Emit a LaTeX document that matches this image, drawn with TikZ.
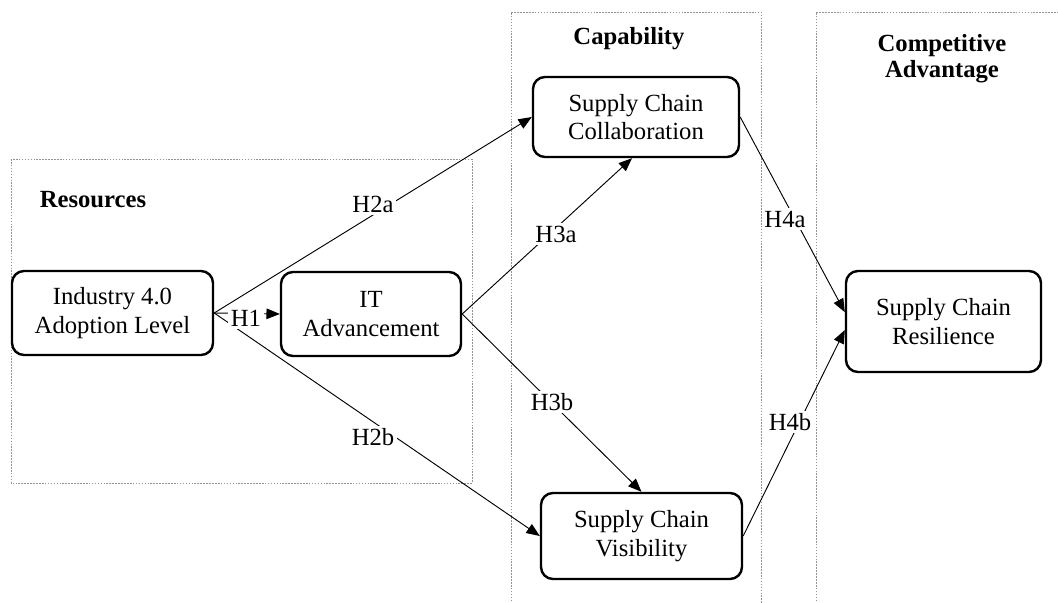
\documentclass[tikz,border=0pt]{standalone}
\usepackage{fontspec}
\setmainfont{Liberation Serif}
\usetikzlibrary{arrows.meta}
\begin{document}
\begin{tikzpicture}[x=0.75pt,y=-0.75pt,
  region/.style={draw=gray!85, line width=0.6pt, dash pattern=on 1.2pt off 1pt},
  box/.style={draw=black, line width=1.8pt, rounded corners=9pt, fill=white, align=center,
    font=\fontsize{18.5}{21.5}\selectfont, inner sep=0pt},
  title/.style={font=\fontsize{18.5}{19.5}\selectfont\bfseries, align=center, inner sep=0pt},
  hyp/.style={fill=white, font=\fontsize{18.5}{20}\selectfont, inner sep=2pt, text height=12.5pt, text depth=0pt},
  conn/.style={draw=black, line width=0.7pt, -{Triangle[length=10pt,width=8pt]}}
]
\useasboundingbox (0,0) rectangle (1058,603);
% regions
\draw[region] (11,159) rectangle (472,483);
\draw[region] (511,610) -- (511,12) -- (761,12) -- (761,610);
\draw[region] (816,610) -- (816,12) -- (1070,12);
% titles
\node[title, anchor=base] (tres) at (93,207) {Resources};
\node[title, anchor=base] (tcap) at (629,45) {Capability};
\node[title] (tcomp) at (942,59) {Competitive\\Advantage};
% nodes
\node[box, minimum width=150.75pt, minimum height=63pt] (ind) at (112.5,313) {Industry 4.0\\Adoption Level};
\node[box, minimum width=135pt, minimum height=63pt] (it) at (371,314) {IT\\Advancement};
\node[box, minimum width=154.5pt, minimum height=60pt] (scc) at (636,117) {Supply Chain\\Collaboration};
\node[box, minimum width=150.75pt, minimum height=64.5pt] (scv) at (641.5,536) {Supply Chain\\Visibility};
\node[box, minimum width=146.25pt, minimum height=75.75pt] (scr) at (943.5,321.5) {Supply Chain\\Resilience};
% connectors
\draw[conn] (ind.east) -- (it.west);
\draw[conn] (ind.east) -- (scc.west);
\draw[conn] (ind.east) -- (scv.west);
\draw[conn] (it.east) -- ([xshift=-3pt]scc.south);
\draw[conn] (it.east) -- (scv.north);
\draw[conn] (scc.east) -- ([yshift=7pt]scr.west);
\draw[conn] (scv.east) -- ([yshift=-6.4pt]scr.west);
% labels
\node[hyp] (h1) at (246,318) {H1};
\node[hyp] (h2a) at (373,204) {H2a};
\node[hyp] (h3a) at (556,234) {H3a};
\node[hyp] (h2b) at (373,437) {H2b};
\node[hyp] (h3b) at (552,402) {H3b};
\node[hyp] (h4a) at (785,219) {H4a};
\node[hyp] (h4b) at (790,422) {H4b};
\end{tikzpicture}
\end{document}
